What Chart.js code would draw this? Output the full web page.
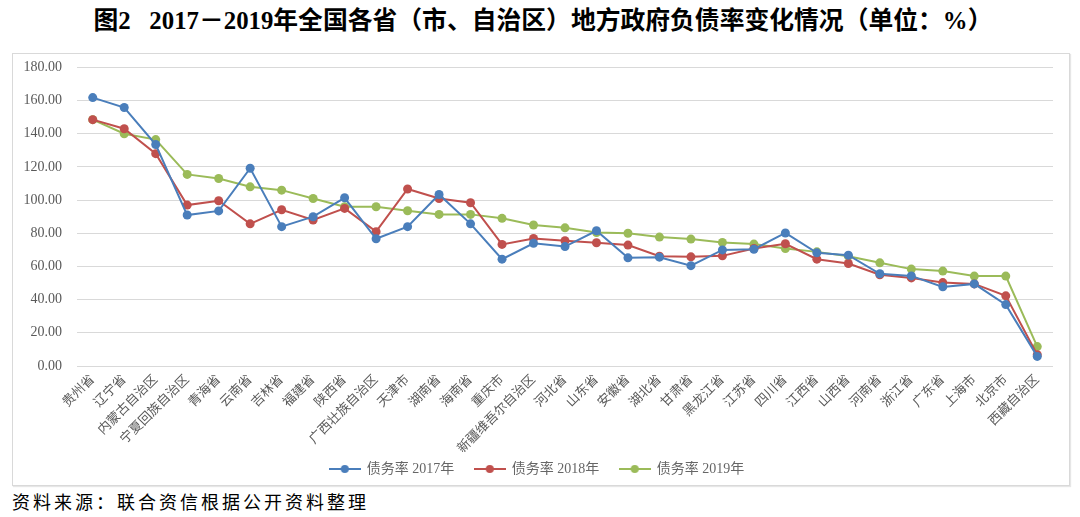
<!DOCTYPE html>
<html>
<head>
<meta charset="utf-8">
<script src="https://cdn.jsdelivr.net/npm/chart.js@4/dist/chart.umd.min.js"></script>
<style>
   body { margin: 0; width: 1080px; height: 517px; background: #fff; position: relative; overflow: hidden; }
   #title {
      position: absolute; left: 5px; top: 0; width: 1076px; text-align: center;
      font: bold 24.8px "Liberation Serif", "Noto Sans CJK SC"; color: #000; white-space: pre;
   }
   #frame { position: absolute; left: 12px; top: 53px; width: 1056px; height: 431px; border: 1px solid #d9d9d9; box-shadow: 1px 1px 1px #e6e6e6; }
   #wrap { position: absolute; left: 12px; top: 44px; width: 1058px; height: 442px; }
   #source {
      position: absolute; left: 12px; top: 488px;
      font: 18px "Noto Sans CJK SC"; letter-spacing: 3px; color: #000;
   }
</style>
</head>
<body>
<div id="title">图2   2017－2019年全国各省（市、自治区）地方政府负债率变化情况（单位：%）</div>
<div id="frame"></div>
<div id="wrap"><canvas id="debtChart"></canvas></div>
<div id="source">资料来源：联合资信根据公开资料整理</div>

<script>
// Data
const provinces = ['贵州省', '辽宁省', '内蒙古自治区', '宁夏回族自治区', '青海省', '云南省', '吉林省', '福建省',
   '陕西省', '广西壮族自治区', '天津市', '湖南省', '海南省', '重庆市', '新疆维吾尔自治区', '河北省', '山东省',
   '安徽省', '湖北省', '甘肃省', '黑龙江省', '江苏省', '四川省', '江西省', '山西省', '河南省', '浙江省', '广东省',
   '上海市', '北京市', '西藏自治区'];

const rate2017 = [161.8, 155.8, 133.5, 91.0, 93.5, 119.2, 84.0, 90.0, 101.4, 76.7, 84.0, 103.4, 85.7, 64.4, 74.0,
   72.0, 81.5, 65.2, 65.6, 60.5, 70.0, 70.4, 80.2, 68.2, 66.8, 55.6, 54.3, 47.7, 49.5, 37.0, 5.8];
const rate2018 = [148.5, 143.0, 128.0, 97.0, 99.6, 85.7, 94.2, 88.0, 95.0, 81.0, 106.7, 101.0, 98.4, 73.3, 76.9,
   75.5, 74.3, 72.9, 66.2, 65.8, 66.4, 70.8, 73.7, 64.4, 61.8, 55.0, 53.1, 50.3, 49.5, 42.3, 6.8];
const rate2019 = [148.5, 140.0, 136.5, 115.5, 113.0, 108.0, 106.0, 101.0, 96.0, 96.0, 93.6, 91.4, 91.4, 89.0, 85.0,
   83.3, 80.5, 80.0, 77.7, 76.5, 74.5, 73.5, 70.8, 68.8, 66.2, 62.2, 58.4, 57.2, 54.2, 54.2, 11.7];

const seriesNames = ['债务率 2017年', '债务率 2018年', '债务率 2019年'];
const seriesColors = ['#4a7ebb', '#c0504d', '#9bbb59'];

// Legend marker: short line with a dot, like Excel
function legendMarker(color) {
   const c = document.createElement('canvas');
   c.width = 32;
   c.height = 10;
   const ctx = c.getContext('2d');
   ctx.strokeStyle = color;
   ctx.lineWidth = 2;
   ctx.beginPath();
   ctx.moveTo(0, 5);
   ctx.lineTo(32, 5);
   ctx.stroke();
   ctx.fillStyle = color;
   ctx.beginPath();
   ctx.arc(16, 5, 4, 0, Math.PI * 2);
   ctx.fill();
   return c;
}
const markers = seriesColors.map(legendMarker);

const allSeries = [rate2017, rate2018, rate2019];

new Chart(document.getElementById('debtChart'), {
   type: 'line',
   data: {
      labels: provinces,
      datasets: allSeries.map((values, i) => ({
         label: seriesNames[i],
         data: values,
         borderColor: seriesColors[i],
         backgroundColor: seriesColors[i],
         borderWidth: 2,
         pointRadius: 4.5,
         pointBorderWidth: 0,
         pointBackgroundColor: seriesColors[i],
         tension: 0,
         fill: false
      }))
   },
   options: {
      responsive: true,
      maintainAspectRatio: false,
      animation: false,
      layout: { padding: { top: 4, right: 17, bottom: 0, left: 9 } },
      plugins: {
         tooltip: { enabled: false },
         legend: {
            position: 'bottom',
            labels: {
               usePointStyle: true,
               pointStyleWidth: 30,
               padding: 10,
               color: '#666',
               font: { family: '"Liberation Serif", "Noto Sans CJK SC"', size: 14 },
               generateLabels(chart) {
                  const items = Chart.defaults.plugins.legend.labels.generateLabels(chart);
                  // trailing spaces widen the gap between legend entries
                  items.forEach((item, i) => {
                     item.pointStyle = markers[i];
                     if (i < items.length - 1) item.text = item.text + '   ';
                  });
                  return items;
               }
            }
         }
      },
      scales: {
         x: {
            offset: true,
            grid: { display: false, drawTicks: false },
            border: { display: false },
            afterFit(scale) { scale.height = 86; },
            ticks: {
               autoSkip: false,
               minRotation: 45,
               maxRotation: 45,
               padding: 6,
               color: '#595959',
               font: { family: '"Liberation Serif", "Noto Sans CJK SC"', size: 13 }
            }
         },
         y: {
            min: 0,
            max: 180,
            grid: { color: '#d9d9d9', lineWidth: 1, drawTicks: false },
            border: { display: false },
            afterFit(scale) { scale.width = 56; },
            ticks: {
               stepSize: 20,
               padding: 15,
               color: '#595959',
               font: { family: '"Liberation Serif"', size: 14 },
               callback: v => v.toFixed(2)
            }
         }
      }
   }
});
</script>
</body>
</html>
